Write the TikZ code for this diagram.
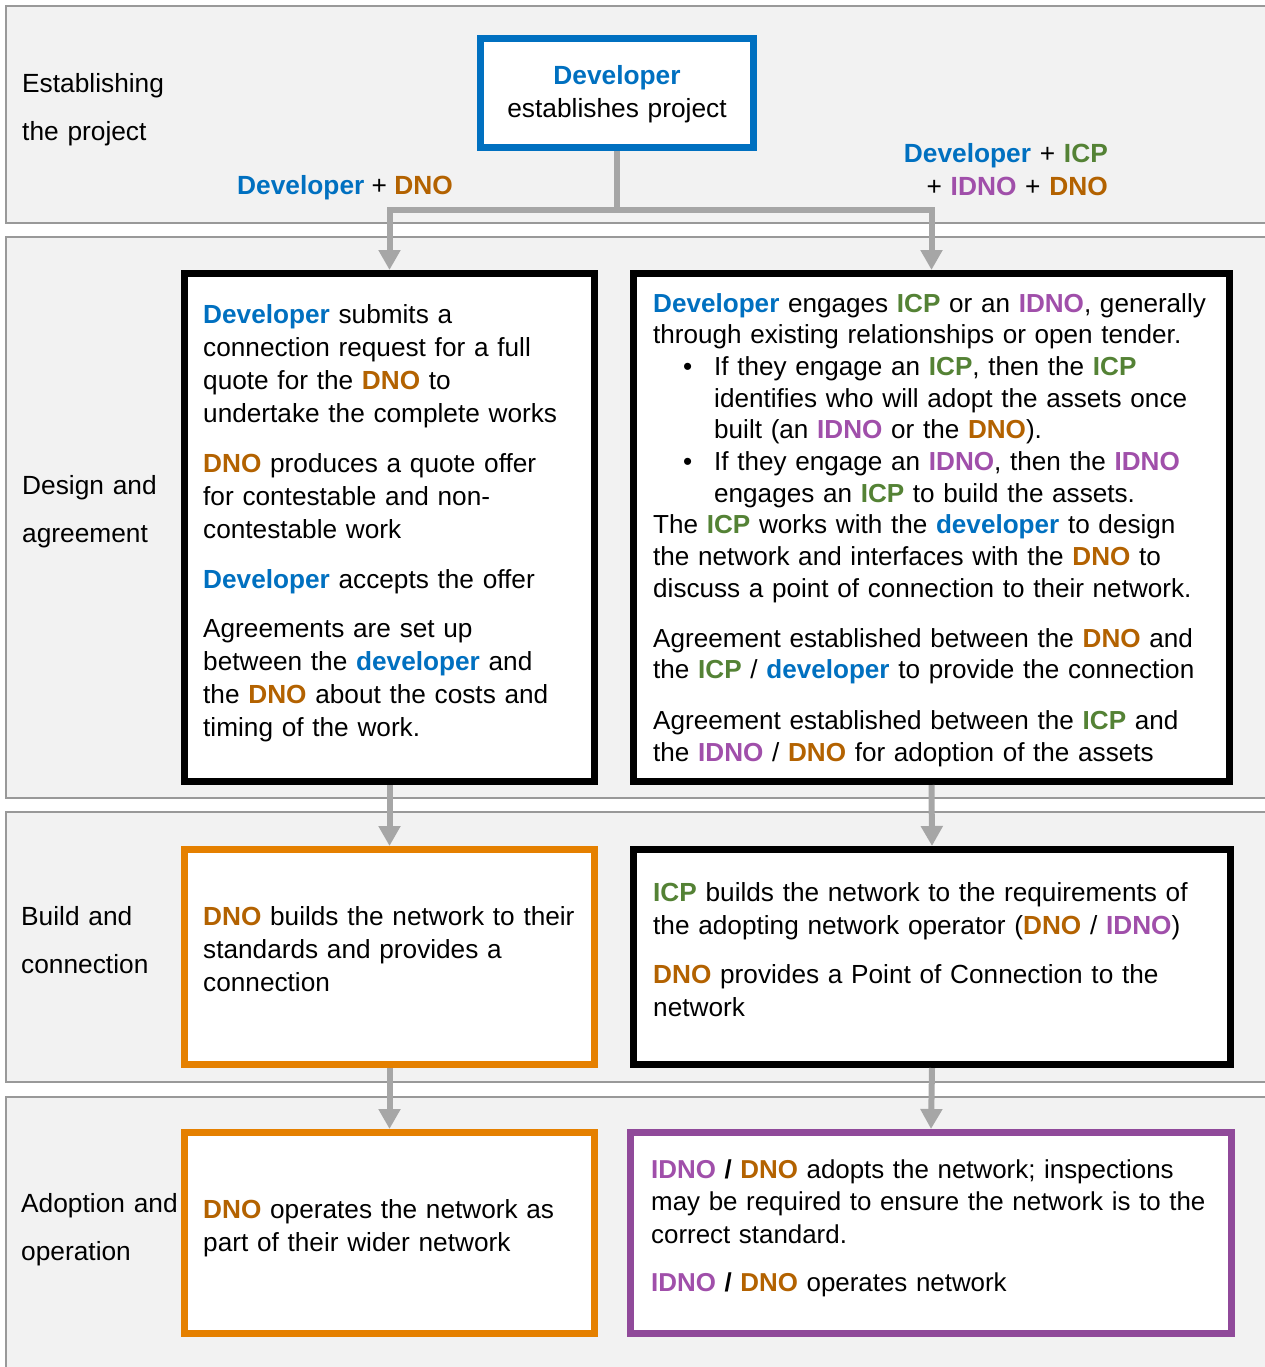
\documentclass[tikz,border=0pt]{standalone}
\usepackage{fontspec}
\setmainfont{Liberation Sans}
\usetikzlibrary{arrows.meta}
\definecolor{devblue}{HTML}{0070C0}
\definecolor{dnobrown}{HTML}{B36200}
\definecolor{icpgreen}{HTML}{548235}
\definecolor{idnopurple}{HTML}{A04FAA}
\definecolor{boxorange}{HTML}{E58000}
\definecolor{boxpurple}{HTML}{904A9A}
\definecolor{bandfill}{HTML}{F2F2F2}
\definecolor{bandline}{HTML}{999999}
\definecolor{conngray}{HTML}{A6A6A6}
\newcommand\Dv[1]{{\color{devblue}\bfseries #1}}
\newcommand\Dn[1]{{\color{dnobrown}\bfseries #1}}
\newcommand\Ic[1]{{\color{icpgreen}\bfseries #1}}
\newcommand\Id[1]{{\color{idnopurple}\bfseries #1}}
\newcommand\Bul{\hspace*{30pt}\makebox[31pt][l]{•}}
\tikzset{
  band/.style={draw=bandline, fill=bandfill, line width=1.2pt},
  flowbox/.style={draw=#1, fill=white, line width=7pt, rectangle, inner sep=0pt, outer sep=3.5pt, anchor=north west},
  conn/.style={draw=conngray, line width=6pt, -{Triangle[width=21pt,length=20pt]}},
  txt/.style={anchor=base west, inner sep=0pt, text width=700pt, align=left, font=\fontsize{26.2}{33}\selectfont},
  lbl/.style={anchor=base west, inner sep=0pt, text width=200pt, align=left, font=\fontsize{26.3}{48}\selectfont},
}
\begin{document}
\begin{tikzpicture}[x=1pt,y=-1pt]
\useasboundingbox (0,0) rectangle (1264,1367);
% bands
\path[band] (6,6) rectangle (1280,223);
\path[band] (6,237) rectangle (1280,798);
\path[band] (6,812) rectangle (1280,1082);
\path[band] (6,1097) rectangle (1280,1390);
% phase labels
\node[lbl] (l1) at (22,92.5) {Establishing\\the project};
\node[lbl] (l2) at (22,494.5) {Design and\\agreement};
\node[lbl] (l3) at (21,925) {Build and\\connection};
\node[lbl] (l4) at (21,1212.5) {Adoption and\\operation};
% boxes
\node[flowbox=devblue, minimum width=273pt, minimum height=109pt] (top) at (477,35) {};
\node[flowbox=black, minimum width=410pt, minimum height=508pt] (b2l) at (181,270) {};
\node[flowbox=black, minimum width=596pt, minimum height=508pt] (b2r) at (630,270) {};
\node[flowbox=boxorange, minimum width=410pt, minimum height=215pt] (b3l) at (181,846) {};
\node[flowbox=black, minimum width=597pt, minimum height=215pt] (b3r) at (630,846) {};
\node[flowbox=boxorange, minimum width=410pt, minimum height=201pt] (b4l) at (181,1129) {};
\node[flowbox=boxpurple, minimum width=601pt, minimum height=201pt] (b4r) at (627,1129) {};
% connectors
\coordinate (split) at (617,210);
\draw[conn] (top.south) -- (split) -| (b2l.north);
\draw[conn] (split) -| (b2r.north);
\draw[conn] (b2l.south) -- (b3l.north);
\draw[conn] (b2r.south) -- (b3r.north);
\draw[conn] (b3l.south) -- (b4l.north);
\draw[conn] (b3r.south) -- (b4r.north);
% connector labels
\node[anchor=base, inner sep=0pt, font=\fontsize{26.3}{33}\selectfont] (cl1) at (345,194) {\Dv{Developer} + \Dn{DNO}};
\node[anchor=base east, inner sep=0pt, text width=300pt, align=right, font=\fontsize{26.3}{33}\selectfont] (cl2) at (1108,163) {\Dv{Developer} + \Ic{ICP}\\+ \Id{IDNO} + \Dn{DNO}};
% box texts
\node[anchor=base, inner sep=0pt, text width=270pt, align=center, font=\fontsize{26.3}{33}\selectfont] (ttop) at (617,84.5) {\Dv{Developer}\\establishes project};
\node[txt] (t2l) at (203,323) {\Dv{Developer} submits a\\
connection request for a full\\
quote for the \Dn{DNO} to\\
undertake the complete works\\[17pt]
\Dn{DNO} produces a quote offer\\
for contestable and non-\\
contestable work\\[17pt]
\Dv{Developer} accepts the offer\\[16pt]
Agreements are set up\\
between the \Dv{developer} and\\
the \Dn{DNO} about the costs and\\
timing of the work.};
\node[txt, font=\fontsize{26.1}{31.7}\selectfont] (t2r) at (653,312) {\Dv{Developer} engages \Ic{ICP} or an \Id{IDNO}, generally\\
through existing relationships or open tender.\\
\Bul If they engage an \Ic{ICP}, then the \Ic{ICP}\\
\hspace*{61pt}identifies who will adopt the assets once\\
\hspace*{61pt}built (an \Id{IDNO} or the \Dn{DNO}).\\
\Bul If they engage an \Id{IDNO}, then the \Id{IDNO}\\
\hspace*{61pt}engages an \Ic{ICP} to build the assets.\\
The \Ic{ICP} works with the \Dv{developer} to design\\
the network and interfaces with the \Dn{DNO} to\\
discuss a point of connection to their network.\\[18pt]
Agreement established between the \Dn{DNO} and\\
the \Ic{ICP} / \Dv{developer} to provide the connection\\[19pt]
Agreement established between the \Ic{ICP} and\\
the \Id{IDNO} / \Dn{DNO} for adoption of the assets};
\node[txt] (t3l) at (203,925) {\Dn{DNO} builds the network to their\\
standards and provides a\\
connection};
\node[txt] (t3r) at (653,901) {\Ic{ICP} builds the network to the requirements of\\
the adopting network operator (\Dn{DNO} / \Id{IDNO})\\[16pt]
\Dn{DNO} provides a Point of Connection to the\\
network};
\node[txt] (t4l) at (203,1218) {\Dn{DNO} operates the network as\\
part of their wider network};
\node[txt, font=\fontsize{25.9}{32.5}\selectfont] (t4r) at (651,1178) {\Id{IDNO} \textbf{/} \Dn{DNO} adopts the network; inspections\\
may be required to ensure the network is to the\\
correct standard.\\[16pt]
\Id{IDNO} \textbf{/} \Dn{DNO} operates network};
\end{tikzpicture}
\end{document}
